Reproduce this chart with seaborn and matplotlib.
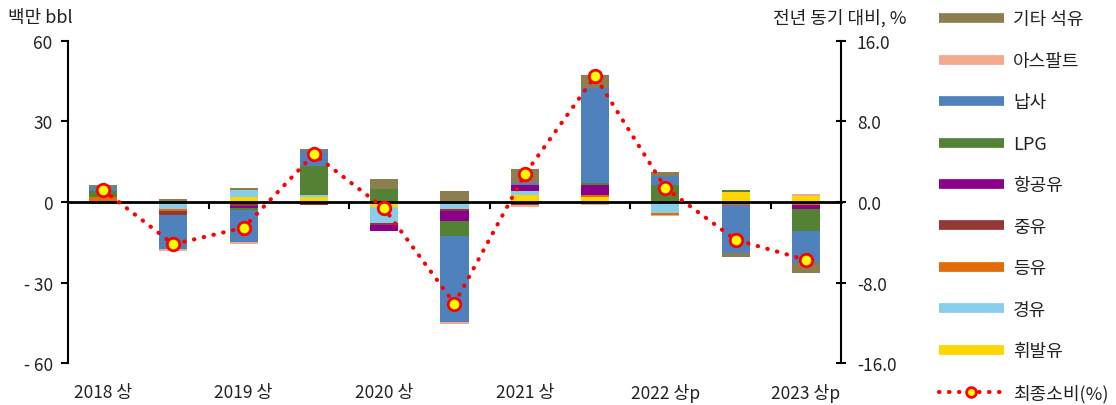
import numpy as np
import pandas as pd
import matplotlib
matplotlib.use("Agg")
import matplotlib.pyplot as plt
import matplotlib.transforms as mtransforms
from matplotlib.lines import Line2D
from matplotlib.markers import TICKDOWN
import seaborn as sns

# Half-year periods
periods = ["2018 상", "2018 하", "2019 상", "2019 하", "2020 상", "2020 하",
           "2021 상", "2021 하", "2022 상p", "2022 하p", "2023 상p"]
tick_labels = ["2018 상", "", "2019 상", "", "2020 상", "",
               "2021 상", "", "2022 상p", "", "2023 상p"]

# Contribution to change in consumption by product (million bbl), stacking order
gasoline  = [0.0,   0.0,   1.7,  1.9, -1.9,   0.0,  2.5,  1.7,  0.0,   3.8,  2.2]   # 휘발유
diesel    = [0.0,  -2.7,   2.7,  0.6, -6.1,  -2.7,  1.5,  0.0, -4.2,   0.0,  0.0]   # 경유
kerosene  = [2.0,  -0.75, -0.75, 0.0,  0.0,   0.0,  0.0,  0.75, -0.6, -1.1, -1.0]  # 등유
fuel_oil  = [0.0,  -1.5,  -0.75, -1.1, -0.75, -0.6, -1.1, 0.0,  0.0,   0.0,  0.0]   # 중유
jet_fuel  = [0.0,   0.0,  -0.75, 0.0, -2.1,  -3.7,  2.5,  3.7,  0.0,   0.0, -1.6]   # 항공유
lpg       = [2.0,   0.0,  -0.75, 10.9, 4.7,  -5.8,  0.0,  0.75, 6.2,   0.85, -8.3]  # LPG
naphtha   = [1.6, -12.5, -11.9,  5.5,  0.0, -31.9,  0.7, 35.7,  3.5, -17.9, -11.7]  # 납사
asphalt   = [-0.9, -0.9,  -0.85, 0.0,  0.0,  -0.9, -0.9, -1.1, -0.6,   0.0,  0.75]  # 아스팔트
other     = [0.6,   1.0,   0.75, 0.75, 3.7,   4.0,  5.2,  4.6,  1.6,  -1.5, -3.7]   # 기타 석유

# Final consumption, year-on-year change (%)
final_yoy = [1.2, -4.2, -2.55, 4.75, -0.63, -10.1, 2.75, 12.5, 1.4, -3.75, -5.75]

series_names = ["휘발유", "경유", "등유", "중유", "항공유", "LPG", "납사", "아스팔트", "기타 석유"]
series_values = [gasoline, diesel, kerosene, fuel_oil, jet_fuel, lpg, naphtha, asphalt, other]
series_colors = ["#FFD700", "#87CEEB", "#E36C09", "#953735", "#8B008B",
                 "#548235", "#4F81BD", "#F2A98C", "#8C7E4E"]

sns.set_theme(style="white")
plt.rcParams["font.family"] = ["Noto Sans CJK KR", "DejaVu Sans"]
plt.rcParams["axes.unicode_minus"] = False

TXT = "#222222"
FS = 12.5

fig = plt.figure(figsize=(11.16, 4.06), dpi=100)
ax = fig.add_axes([0.0609, 0.1034, 0.6927, 0.7932])

x = np.arange(len(periods))
pos_base = np.zeros(len(periods))
neg_base = np.zeros(len(periods))
for name, vals, col in zip(series_names, series_values, series_colors):
    v = np.array(vals, dtype=float)
    bottom = np.where(v >= 0, pos_base, neg_base)
    ax.bar(x, v, width=0.4, bottom=bottom, color=col, edgecolor="none", zorder=2)
    pos_base += np.where(v >= 0, v, 0)
    neg_base += np.where(v < 0, v, 0)

# Right axis: year-on-year change of final consumption
ax2 = ax.twinx()
df_line = pd.DataFrame({"x": x, "yoy": final_yoy})
sns.lineplot(data=df_line, x="x", y="yoy", ax=ax2, color="red", lw=3,
             linestyle=(0, (0.1, 2.3)), dash_capstyle="round", zorder=3)
ax2.plot(x, final_yoy, linestyle="none", marker="o", markersize=9,
         markerfacecolor="#FFFF00", markeredgecolor="red", markeredgewidth=2, zorder=4)
ax2.set_ylim(-16, 16)
ax2.set_yticks([16, 8, 0, -8, -16])
ax2.set_yticklabels(["16.0", "8.0", "0.0", "-8.0", "-16.0"])
ax2.set_xlabel("")
ax2.set_ylabel("")
ax2.tick_params(axis="y", direction="inout", length=7, width=1.5, right=True,
                labelsize=FS, colors="black", labelcolor=TXT, pad=8)
for s in ["top", "left", "bottom"]:
    ax2.spines[s].set_visible(False)
ax2.spines["right"].set_color("black")
ax2.spines["right"].set_linewidth(1.5)
ax2.grid(False)

# Left axis
ax.set_xlim(-0.5, len(periods) - 0.5)
ax.set_ylim(-60, 60)
ax.set_yticks([60, 30, 0, -30, -60])
ax.set_yticklabels(["60", "30", "0", "- 30", "- 60"])
ax.tick_params(axis="y", direction="out", length=5, width=1.5, left=True,
               labelsize=FS, colors="black", labelcolor=TXT, pad=6)
for s in ["top", "right"]:
    ax.spines[s].set_visible(False)
ax.spines["left"].set_color("black")
ax.spines["left"].set_linewidth(1.5)
ax.grid(False)

# Horizontal axis sits on the zero line
ax.spines["bottom"].set_position(("data", 0))
ax.spines["bottom"].set_linewidth(2)
ax.spines["bottom"].set_color("black")
ax.spines["bottom"].set_zorder(3)
ax.set_xticks([])

# Separator marks between year groups, hanging below the zero line
separators = np.arange(1.5, len(periods) - 1, 2)
ax.plot(separators, np.zeros_like(separators), linestyle="none", marker=TICKDOWN,
        markersize=5, markeredgewidth=1.5, color="black", zorder=3, clip_on=False)

# Period labels below the plot area
label_tf = mtransforms.blended_transform_factory(ax.transData, ax.transAxes)
for xi, lab in zip(x, tick_labels):
    if lab:
        ax.text(xi, -0.09, lab, transform=label_tf, ha="center", va="center",
                fontsize=FS, color=TXT)

fig.text(0.007, 0.955, "백만 bbl", fontsize=13, color=TXT, va="center", ha="left")
fig.text(0.812, 0.955, "전년 동기 대비, %", fontsize=13, color=TXT, va="center", ha="right")

# Legend (top-to-bottom is reverse of stacking order)
handles = []
labels = []
for name, col in zip(series_names[::-1], series_colors[::-1]):
    handles.append(Line2D([0], [0], color=col, lw=7, solid_capstyle="butt"))
    labels.append(name)
handles.append(Line2D([0], [0], color="red", lw=3, linestyle=(0, (0.1, 2.3)),
                      dash_capstyle="round", marker="o", markersize=7,
                      markerfacecolor="#FFFF00", markeredgecolor="red", markeredgewidth=2))
labels.append("최종소비(%)")
fig.legend(handles, labels, loc="upper left", bbox_to_anchor=(0.830, 1.003),
           frameon=False, fontsize=13, handlelength=3.6, handletextpad=0.5,
           labelspacing=1.3, borderpad=0.2, labelcolor=TXT)

fig.savefig("out.png", dpi=100)
